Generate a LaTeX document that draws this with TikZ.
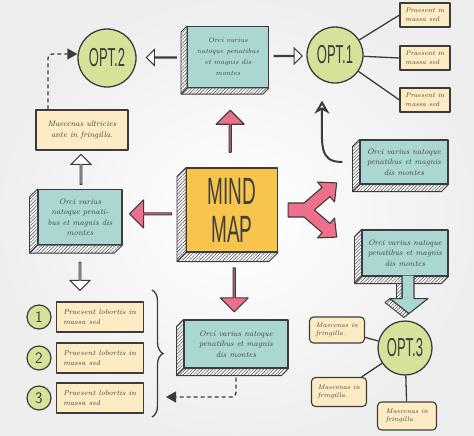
\documentclass[tikz,border=0pt]{standalone}
\usepackage{fontspec}
\usepackage{tikz}
\usetikzlibrary{shapes.arrows, shapes.geometric, positioning, calc, arrows.meta, decorations.pathreplacing, patterns.meta}

\newfontfamily\tallfont[FakeStretch=0.5]{Liberation Sans}

\definecolor{mapink}{HTML}{3C3C3C}
\definecolor{maptext}{HTML}{3F3F3F}
\definecolor{mapteal}{HTML}{AAD7D1}
\definecolor{mapcream}{HTML}{FCEBC3}
\definecolor{mapgreen}{HTML}{D6E29A}
\definecolor{mapgold}{HTML}{F7C44C}
\definecolor{mappink}{HTML}{EE6F8C}

% hatched side and bottom of a raised box
\newcommand{\boxdepth}[2][7]{%
    \draw[depth] (#2.north west) -- ++(-#1,#1) |- ($(#2.south east)+(-#1,#1)$)
        -- (#2.south east) -- (#2.south west) -- cycle;
    \draw[outline] (#2.south west) -- ++(-#1,#1);
}

\begin{document}
\begin{tikzpicture}[
        x=1pt, y=-1pt,
        outline/.style={draw=mapink, line width=1.1pt, line join=round},
        % Style for the raised boxes
        face/.style={
            outline, fill=mapteal, align=center, text=maptext, inner sep=2pt,
            font={\fontsize{8}{10.5}\selectfont\itshape}
        },
        depth/.style={
            draw=mapink, line width=0.9pt, line join=round, preaction={fill=white},
            pattern={Lines[angle=45, distance=2.4pt, line width=0.45pt]}, pattern color=mapink
        },
        note/.style={
            outline, fill=mapcream, align=center, text=maptext, inner sep=2pt,
            font={\fontsize{8}{10.5}\selectfont\itshape}
        },
        small/.style={font={\fontsize{6.6}{8.5}\selectfont\itshape}},
        opt/.style={
            circle, draw=mapink, line width=1.3pt, fill=mapgreen, inner sep=0pt,
            text=maptext, font={\tallfont\fontsize{26}{26}\selectfont}
        },
        num/.style={
            circle, draw=mapink, line width=1.2pt, fill=mapgreen, minimum size=24pt,
            inner sep=0pt, text=maptext, font={\sffamily\fontsize{16}{16}\selectfont}
        },
        pinkarrow/.style={
            single arrow, outline, fill=mappink, inner sep=0pt,
            minimum width=28pt, single arrow head extend=7pt, minimum height=42pt
        },
        hollow/.style={
            single arrow, draw=mapink, line width=1pt, fill=white, inner sep=0pt,
            minimum width=16pt, single arrow head extend=5pt, minimum height=30pt
        },
        link/.style={draw=mapink, line width=1.3pt},
        dashlink/.style={
            draw=mapink, line width=1.3pt, dash pattern=on 4pt off 3pt, rounded corners=4pt,
            -{Triangle[length=10pt, width=11pt]}
        },
        curvy/.style={
            draw=mapink, line width=2pt, -{Stealth[open, length=13pt, width=15pt, inset=4pt]}
        }
    ]

        % 1. Background
        \useasboundingbox (0,0) rectangle (474,436);
        \shade[inner color=white, outer color=gray!13] (0,0) rectangle (474,436);

        % 2. Raised boxes
        \node[face, minimum width=81pt, minimum height=61pt,
              font={\fontsize{6.8}{11}\selectfont\itshape}] (top) at (228,57)
              {Orci varius\\natoque penatibus\\et magnis dis\\montes};
        \boxdepth[6]{top}

        \node[face, fill=mapgold, minimum width=91pt, minimum height=84pt,
              font={\tallfont\fontsize{38}{38}\selectfont}] (mind) at (232,210) {MIND\\MAP};
        \boxdepth[9]{mind}

        \node[face, minimum width=84pt, minimum height=55pt] (lbox) at (80,217)
              {Orci varius\\natoque penati-\\bus et magnis dis\\montes};
        \boxdepth[8]{lbox}

        \node[face, minimum width=88pt, minimum height=44pt] (rmid) at (404,162)
              {Orci varius natoque\\penatibus et magnis\\dis montes};
        \boxdepth{rmid}

        \node[face, minimum width=104pt, minimum height=48pt] (bot) at (236,344)
              {Orci varius natoque\\penatibus et magnis\\dis montes};
        \boxdepth{bot}

        \node[face, minimum width=86pt, minimum height=46pt] (rlow) at (405,253)
              {Orci varius natoque\\penatibus et magnis\\dis montes};
        \boxdepth{rlow}

        % callout stem under the lower right box
        \begin{scope}[shift={(rlow.south)}]
            \draw[depth] (-9,7) rectangle (-3,22);
            \draw[depth] (-15,22) -- (-20,26) -- (-1,41) -- (4,37) -- cycle;
            \fill[mapteal] (-2.5,-1) -- (-2.5,22) -- (-15,22) -- (4,37) -- (23,22) -- (8.5,22) -- (8.5,-1) -- cycle;
            \draw[outline] (-3,0) -- (-3,22) -- (-15,22) -- (4,37) -- (23,22) -- (9,22) -- (9,0);
        \end{scope}

        % 3. Notes
        \node[note, minimum width=92pt, minimum height=40pt] (ultri) at (82,130)
              {Maecenas ultricies\\ante in fringilla.};

        \node[note, small, align=left, minimum width=50pt, minimum height=24pt] (p1) at (425,15) {Praesent in\\massa sed};
        \node[note, small, align=left, minimum width=50pt, minimum height=24pt] (p2) at (425,58) {Praesent in\\massa sed};
        \node[note, small, align=left, minimum width=50pt, minimum height=24pt] (p3) at (425,100) {Praesent in\\massa sed};

        \node[num] (n1) at (39,317) {1};
        \node[num] (n2) at (39,358) {2};
        \node[num] (n3) at (39,398) {3};
        \node[note, right=4pt of n1, align=left, minimum width=87pt, minimum height=30pt,
              font={\fontsize{7.2}{9.5}\selectfont\itshape}] (l1) {Praesent lobortis in\\massa sed};
        \node[note, right=4pt of n2, align=left, minimum width=87pt, minimum height=30pt,
              font={\fontsize{7.2}{9.5}\selectfont\itshape}] (l2) {Praesent lobortis in\\massa sed};
        \node[note, right=4pt of n3, align=left, minimum width=87pt, minimum height=30pt,
              font={\fontsize{7.2}{9.5}\selectfont\itshape}] (l3) {Praesent lobortis in\\massa sed};

        \node[note, small, rounded corners=4pt, align=left, minimum width=55pt, minimum height=26pt] (ma) at (337,330) {Maecenas in\\fringilla.};
        \node[note, small, rounded corners=4pt, align=left, minimum width=55pt, minimum height=29pt] (mb) at (339,392) {Maecenas in\\fringilla.};
        \node[note, small, rounded corners=4pt, align=left, minimum width=59pt, minimum height=28pt] (mc) at (407,416) {Maecenas in\\fringilla.};

        % 4. Options
        \node[opt, minimum size=58pt] (opt2) at (107,58) {OPT.2};
        \node[opt, minimum size=56pt] (opt1) at (335,55) {OPT.1};
        \node[opt, minimum size=54pt] (opt3) at (405,348) {OPT.3};

        % 5. Arrows out of the centre
        \node[pinkarrow, rotate=90]  (a-up)   at ($(mind.north)!0.45!(top.south)$) {};
        \node[pinkarrow, rotate=180] (a-left) at ($(mind.west)!0.55!(lbox.east)$) {};
        \node[pinkarrow, rotate=-90, minimum height=44pt] (a-down) at ($(mind.south)!0.55!(bot.north)$) {};
        \begin{scope}[shift={($(mind.east)+(10,0)$)}]
            \draw[outline, fill=mappink] (0,-7) -- (15.9,-7) -- (34.1,-22.6) -- (29.5,-27.9) -- (48.6,-27.1)
                -- (46.5,-8.1) -- (41.9,-13.4) -- (26.3,0) -- (41.9,13.4) -- (46.5,8.1) -- (48.6,27.1)
                -- (29.5,27.9) -- (34.1,22.6) -- (15.9,7) -- (0,7) -- cycle;
        \end{scope}

        \node[hollow, rotate=180] (a-opt2) at ($(top.west)!0.5!(opt2.east)$) {};
        \node[hollow, minimum height=28pt] (a-opt1) at ($(top.east)!0.5!(opt1.west)$) {};
        \node[hollow, rotate=90, minimum width=20pt, single arrow head extend=6pt] (a-ultri) at ($(lbox.north)!0.5!(ultri.south)$) {};
        \node[hollow, rotate=-90, minimum width=20pt, single arrow head extend=6pt, minimum height=28pt] (a-list) at ($(lbox.south)+(0,31)$) {};

        % 6. Lines and connectors
        \draw[link] (opt1) -- (p1.west);
        \draw[link] (opt1) -- (p2.west);
        \draw[link] (opt1) -- (p3.west);
        \draw[link] (opt3) -- (ma);
        \draw[link] (opt3) -- (mb);
        \draw[link] (opt3) -- (mc);

        \draw[dashlink] ([xshift=-34pt]ultri.north) |- ([yshift=4pt]opt2.west);

        \draw[decorate, decoration={brace, amplitude=11pt}, draw=mapink, line width=1.3pt] (152,290) -- (152,417);
        \coordinate (brace-tip) at (166,397);
        \draw[dashlink] ([yshift=-9pt]bot.south) |- (brace-tip);

        \draw[curvy] ([xshift=-17pt]rmid.west) .. controls +(-24,0) and +(0,45) .. ([xshift=-13pt, yshift=-17pt]opt1.south);

    \end{tikzpicture}
\end{document}
